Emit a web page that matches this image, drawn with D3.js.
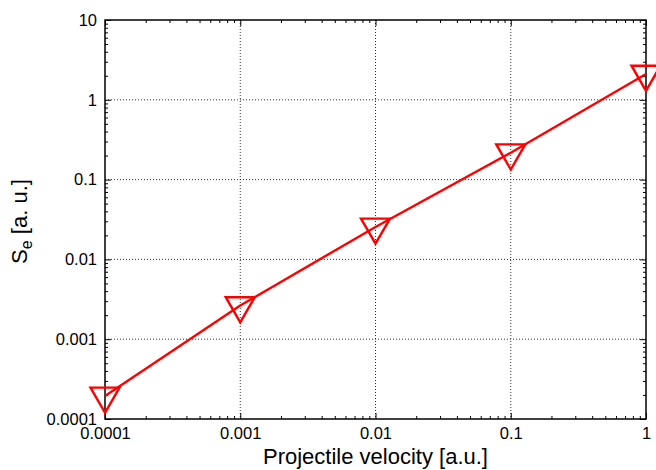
<!DOCTYPE html>
<html>
<head>
<meta charset="utf-8">
<script src="https://cdn.jsdelivr.net/npm/d3@7"></script>
<style>
  body { margin: 0; background: #fff; }
  svg { font-family: "Liberation Sans", Arial, Helvetica, sans-serif; }
</style>
</head>
<body>
<svg class="chart" width="656" height="470"></svg>
<script>
  // data
  const velocities = [0.0001, 0.001, 0.01, 0.1, 1];
  const stoppingPower = [0.000194, 0.00264, 0.0255, 0.217, 2.1];
  const xTickValues = [0.0001, 0.001, 0.01, 0.1, 1];
  const xTickLabels = ["0.0001", "0.001", "0.01", "0.1", "1"];
  const yTickValues = [0.0001, 0.001, 0.01, 0.1, 1, 10];
  const yTickLabels = ["0.0001", "0.001", "0.01", "0.1", "1", "10"];

  const margin = { top: 20, right: 10, bottom: 51, left: 105 };
  const width = 656 - margin.left - margin.right;
  const height = 470 - margin.top - margin.bottom;

  const x = d3.scaleLog().domain([0.0001, 1]).range([0, width]);
  const y = d3.scaleLog().domain([0.0001, 10]).range([height, 0]);

  const svg = d3.select(".chart");
  const g = svg.append("g")
    .attr("transform", "translate(" + margin.left + "," + margin.top + ")");

  // minor positions (2..9 of each decade)
  const isMajor = function(v) {
    return Math.abs(Math.log10(v) - Math.round(Math.log10(v))) < 1e-9;
  };
  const xMinor = x.ticks().filter(function(v) { return !isMajor(v); });
  const yMinor = y.ticks().filter(function(v) { return !isMajor(v); });

  // grid
  g.append("g").selectAll("line")
    .data(xTickValues.slice(1, -1))
    .enter().append("line")
      .attr("x1", function(d) { return x(d); })
      .attr("x2", function(d) { return x(d); })
      .attr("y1", 0).attr("y2", height)
      .attr("stroke", "#333").attr("stroke-width", 1)
      .attr("stroke-dasharray", "1,2");

  g.append("g").selectAll("line")
    .data(yTickValues.slice(1, -1))
    .enter().append("line")
      .attr("y1", function(d) { return y(d); })
      .attr("y2", function(d) { return y(d); })
      .attr("x1", 0).attr("x2", width)
      .attr("stroke", "#333").attr("stroke-width", 1)
      .attr("stroke-dasharray", "1,2");

  // ticks on all four sides, pointing inward
  function styleAxis(sel) {
    sel.attr("font-family", null).attr("font-size", null);
    sel.select(".domain").remove();
    sel.selectAll(".tick line").attr("stroke", "#000").attr("stroke-width", 1);
    sel.selectAll("text").style("font-size", "16.5px").attr("fill", "#000");
  }

  const xFmt = function(d) { return xTickLabels[xTickValues.indexOf(d)]; };
  const yFmt = function(d) { return yTickLabels[yTickValues.indexOf(d)]; };

  g.append("g").attr("transform", "translate(0," + height + ")")
    .call(d3.axisBottom(x).tickValues(xTickValues).tickFormat(xFmt)
      .tickSizeInner(-6).tickSizeOuter(0).tickPadding(8))
    .call(styleAxis);
  g.append("g").attr("transform", "translate(0," + height + ")")
    .call(d3.axisBottom(x).tickValues(xMinor).tickFormat("")
      .tickSizeInner(-3).tickSizeOuter(0))
    .call(styleAxis);
  g.append("g")
    .call(d3.axisTop(x).tickValues(xTickValues).tickFormat("")
      .tickSizeInner(-6).tickSizeOuter(0))
    .call(styleAxis);
  g.append("g")
    .call(d3.axisTop(x).tickValues(xMinor).tickFormat("")
      .tickSizeInner(-3).tickSizeOuter(0))
    .call(styleAxis);

  g.append("g")
    .call(d3.axisLeft(y).tickValues(yTickValues).tickFormat(yFmt)
      .tickSizeInner(-6).tickSizeOuter(0).tickPadding(8))
    .call(styleAxis);
  g.append("g")
    .call(d3.axisLeft(y).tickValues(yMinor).tickFormat("")
      .tickSizeInner(-3).tickSizeOuter(0))
    .call(styleAxis);
  g.append("g").attr("transform", "translate(" + width + ",0)")
    .call(d3.axisRight(y).tickValues(yTickValues).tickFormat("")
      .tickSizeInner(-6).tickSizeOuter(0))
    .call(styleAxis);
  g.append("g").attr("transform", "translate(" + width + ",0)")
    .call(d3.axisRight(y).tickValues(yMinor).tickFormat("")
      .tickSizeInner(-3).tickSizeOuter(0))
    .call(styleAxis);

  // frame
  g.append("rect")
    .attr("width", width).attr("height", height)
    .attr("fill", "none").attr("stroke", "#000").attr("stroke-width", 1.5);

  // series
  const points = velocities.map(function(v, i) { return [v, stoppingPower[i]]; });

  g.append("path")
    .datum(points)
    .attr("fill", "none")
    .attr("stroke", "#ff0000")
    .attr("stroke-width", 2.4)
    .attr("d", d3.line()
      .x(function(d) { return x(d[0]); })
      .y(function(d) { return y(d[1]); }));

  g.append("g").selectAll("path")
    .data(points)
    .enter().append("path")
      .attr("transform", function(d) {
        return "translate(" + x(d[0]) + "," + y(d[1]) + ") rotate(180)";
      })
      .attr("d", d3.symbol(d3.symbolTriangle, 364))
      .attr("fill", "none")
      .attr("stroke", "#ff0000")
      .attr("stroke-width", 2.4);

  // axis titles
  svg.append("text")
    .attr("x", margin.left + width / 2)
    .attr("y", 464)
    .attr("text-anchor", "middle")
    .attr("font-size", 22)
    .text("Projectile velocity [a.u.]");

  const yTitle = svg.append("text")
    .attr("transform", "translate(27," + (margin.top + height / 2 + 2) + ") rotate(-90)")
    .attr("text-anchor", "middle")
    .attr("font-size", 22);
  yTitle.append("tspan").text("S");
  yTitle.append("tspan").attr("font-size", 16).attr("dy", 5).text("e");
  yTitle.append("tspan").attr("dy", -5).text(" [a. u.]");
</script>
</body>
</html>
